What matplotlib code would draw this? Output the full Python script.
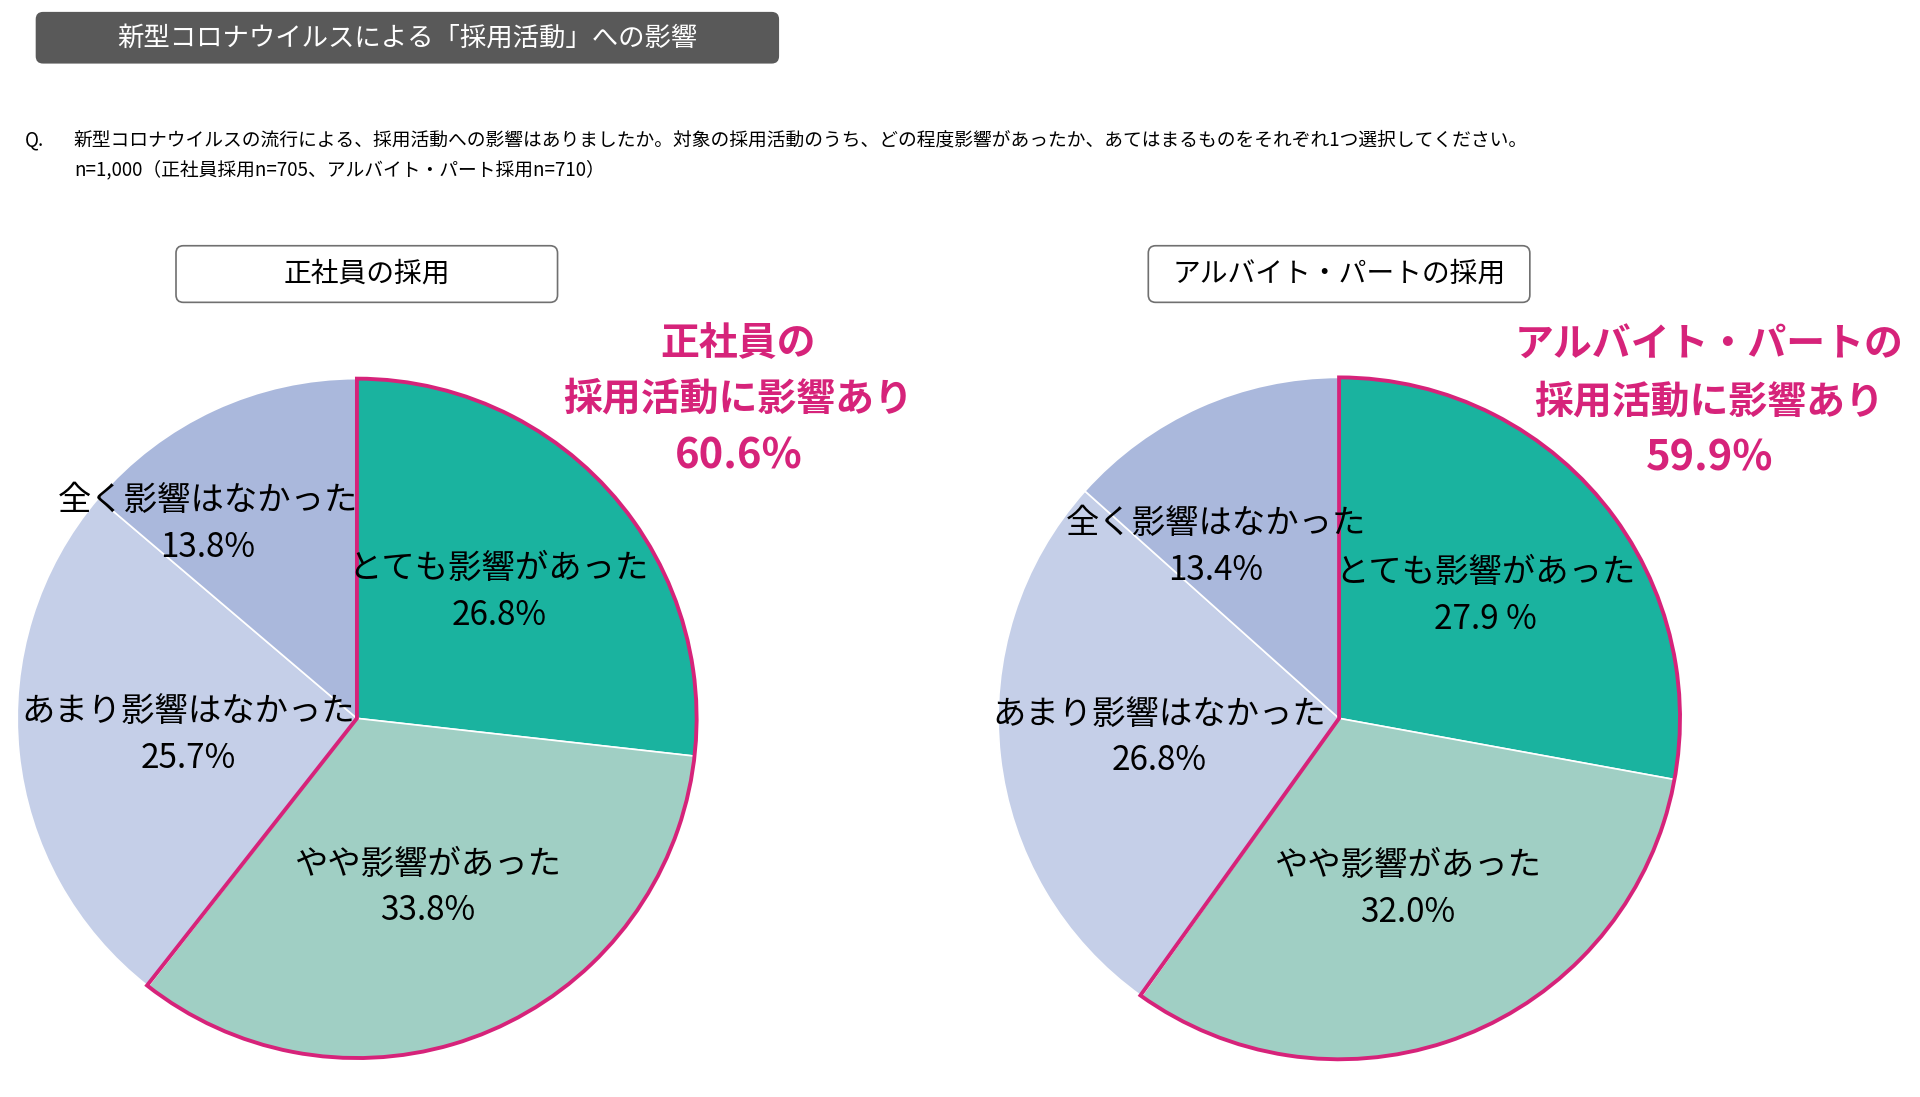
import numpy as np
import matplotlib
matplotlib.use("Agg")
import matplotlib.pyplot as plt
from matplotlib.patches import FancyBboxPatch, Wedge

plt.rcParams['font.family'] = ['Noto Sans CJK JP', 'DejaVu Sans']

# data
categories = ['とても影響があった', 'やや影響があった', 'あまり影響はなかった', '全く影響はなかった']
seishain = [26.8, 33.8, 25.7, 13.8]
arubaito = [27.9, 32.0, 26.8, 13.4]
seishain_labels = ['26.8%', '33.8%', '25.7%', '13.8%']
arubaito_labels = ['27.9 %', '32.0%', '26.8%', '13.4%']
colors = ['#1ab39f', '#a0cfc4', '#c5cfe8', '#aab8dc']
pink = '#d6237a'

W, H = 1560, 890
fig = plt.figure(figsize=(19.2, 10.97), dpi=100)
ax = fig.add_axes([0, 0, 1, 1])
ax.set_xlim(0, W)
ax.set_ylim(0, H)
ax.axis('off')

def Y(y):
    return H - y

# title bar
ax.add_patch(FancyBboxPatch((29, Y(51)), 604, 42, boxstyle='round,pad=0,rounding_size=6',
                            fc='#595959', ec='none'))
ax.text(331, Y(30), '新型コロナウイルスによる「採用活動」への影響', color='white',
        fontsize=19, ha='center', va='center')

ax.text(20, Y(113), 'Q.', fontsize=13.5, va='center')
ax.text(60, Y(113), '新型コロナウイルスの流行による、採用活動への影響はありましたか。対象の採用活動のうち、どの程度影響があったか、あてはまるものをそれぞれ1つ選択してください。',
        fontsize=13.5, va='center')
ax.text(60, Y(137), 'n=1,000（正社員採用n=705、アルバイト・パート採用n=710）', fontsize=13.5, va='center')

def draw_pie(cx, cy, r, vals, pct_labels, header, header_x, head_lines, head_x, head_y,
             rfac, aoff):
    ax.pie(vals, colors=colors, startangle=90, counterclock=False, center=(cx, Y(cy)),
           radius=r, wedgeprops=dict(edgecolor='white', linewidth=1.2), frame=True)
    # pink outline around the "affected" share
    affected = vals[0] + vals[1]
    ax.add_patch(Wedge((cx, Y(cy)), r, 90 - affected * 3.6, 90, fill=False, ec=pink, lw=2.8))
    start = 90
    for i, v in enumerate(vals):
        mid = np.deg2rad(start - v * 1.8 + aoff[i])
        start -= v * 3.6
        x = cx + rfac[i] * r * np.cos(mid)
        y = Y(cy) + rfac[i] * r * np.sin(mid)
        ax.text(x, y + 19, categories[i], fontsize=24, ha='center', va='center')
        ax.text(x, y - 19, pct_labels[i], fontsize=24, ha='center', va='center')
    # header box
    ax.add_patch(FancyBboxPatch((header_x - 155, Y(245)), 310, 46,
                                boxstyle='round,pad=0,rounding_size=6', fc='white', ec='#707070', lw=1.2))
    ax.text(header_x, Y(222), header, fontsize=20, ha='center', va='center')
    for k, line in enumerate(head_lines):
        ax.text(head_x, Y(head_y + 46 * k), line, fontsize=28 if k < 2 else 30, fontweight='bold',
                color=pink, ha='center', va='center')

ax.set_xlim(0, W)
ax.set_ylim(0, H)
ax.set_aspect('equal')

draw_pie(290, 583, 276, seishain, seishain_labels, '正社員の採用', 298,
         ['正社員の', '採用活動に影響あり', '60.6%'], 600, 278,
         [0.56, 0.54, 0.5, 0.72], [0, 0, 0, 13])
draw_pie(1088, 583, 277, arubaito, arubaito_labels, 'アルバイト・パートの採用', 1088,
         ['アルバイト・パートの', '採用活動に影響あり', '59.9%'], 1389, 280,
         [0.56, 0.54, 0.53, 0.62], [0, 0, 0, 12])

ax.set_xlim(0, W)
ax.set_ylim(0, H)
ax.axis('off')
fig.savefig('out.png', dpi=100, facecolor='white')
